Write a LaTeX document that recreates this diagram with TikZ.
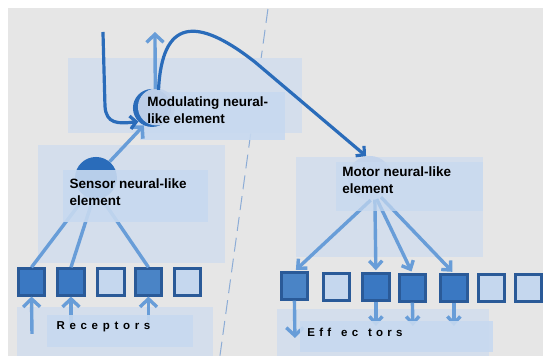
\documentclass[tikz,border=0pt]{standalone}
\usepackage{fontspec}
\setmainfont{Liberation Sans}
\usetikzlibrary{arrows.meta}

\definecolor{pagegrey}{RGB}{230,230,230}
\definecolor{panelblue}{RGB}{212,222,236}
\definecolor{labelblue}{RGB}{199,217,240}
\definecolor{linkblue}{RGB}{104,157,216}
\definecolor{pathblue}{RGB}{42,108,186}
\definecolor{cellfill}{RGB}{58,120,194}
\definecolor{cellmid}{RGB}{74,132,198}
\definecolor{cellpale}{RGB}{197,215,238}
\definecolor{celledge}{RGB}{42,90,152}
\definecolor{splitblue}{RGB}{140,172,214}
\definecolor{bodylight}{RGB}{196,212,235}

\newcommand{\lsgap}{\kern4.7pt}

\begin{document}
\begin{tikzpicture}[x=1pt,y=-1pt,
  panelbox/.style={fill=panelblue},
  tagbox/.style={fill=labelblue, fill opacity=0.9},
  captiontext/.style={anchor=west, align=left, text=black,
    font=\bfseries\fontsize{13.5}{16.5}\selectfont},
  rowlabel/.style={anchor=west, text=black,
    font=\bfseries\fontsize{11.5}{13}\selectfont},
  linkline/.style={draw=linkblue, line width=3.4pt},
  linkarrow/.style={linkline, -{Straight Barb[length=8pt,width=17pt]}},
  smallarrow/.style={linkline, -{Straight Barb[length=7pt,width=13pt]}},
  flowcurve/.style={draw=pathblue, line width=3.2pt,
    -{Straight Barb[length=6pt,width=13pt]}},
  cellbase/.style={rectangle, minimum size=26.5pt, inner sep=0pt,
    line width=2.8pt, draw=celledge},
  cellon/.style={cellbase, fill=cellfill},
  cellmidon/.style={cellbase, fill=cellmid},
  celloff/.style={cellbase, fill=cellpale}]

% page and divider
\fill[white] (0,0) rectangle (543,356);
\fill[pagegrey] (8,8) rectangle (543,356);
\draw[splitblue, line width=1pt, dash pattern=on 14pt off 7pt] (268,9) -- (220,356);

% background panels
\fill[panelbox] (68,58) rectangle (302,133);
\fill[panelbox] (38,145) rectangle (225,263);
\fill[panelbox] (296,157) rectangle (483,257);
\fill[panelbox] (17,307) rectangle (213,356);
\fill[panelbox] (277,309) rectangle (489,356);

% modulating element
\fill[tagbox] (140,92) rectangle (285,140);
\node[circle, minimum size=38pt, inner sep=0pt, fill=pathblue] (mod) at (152,108) {};
\fill[bodylight, fill opacity=0.95] (156.5,107) circle (18.5);

% sensor and motor elements
\node[circle, minimum size=42pt, inner sep=0pt, fill=pathblue] (sens) at (96,178) {};
\node[circle, minimum size=44pt, inner sep=0pt, fill=bodylight] (mot) at (370,178) {};

% receptor cells
\node[cellon]    (r1) at (31.5,282) {};
\node[cellon]    (r2) at (71,282) {};
\node[celloff]   (r3) at (111,282) {};
\node[cellmidon] (r4) at (148.5,282) {};
\node[celloff]   (r5) at (187.5,282) {};

% effector cells
\node[cellmidon] (e1) at (294.5,286) {};
\node[celloff]   (e2) at (336.5,287) {};
\node[cellon]    (e3) at (376,287) {};
\node[cellon]    (e4) at (412.5,288) {};
\node[cellon]    (e5) at (454,288) {};
\node[celloff]   (e6) at (491.5,288) {};
\node[celloff]   (e7) at (528.5,288) {};

% sensor fan-in
\draw[linkline] (sens.240) -- (r1.north);
\draw[linkline] (sens.262) -- (r2.north);
\draw[linkline] (sens.285) -- (r4.north);

% motor fan-out
\draw[smallarrow, shorten >=2pt] (mot.272) -- (e1.north);
\draw[smallarrow, shorten >=2pt] (mot.283) -- (e3.north);
\draw[smallarrow, shorten >=2pt] (mot.288) -- (e4.north);
\draw[smallarrow, shorten >=2pt] (mot.300) -- (e5.north);

% stimuli entering the receptors
\coordinate (ru1) at (32,334);
\coordinate (ru2) at (71,330);
\coordinate (ru4) at (148.5,330);
\draw[linkarrow] (ru1) -- (r1.south);
\draw[linkarrow] (ru2) -- (r2.south);
\draw[linkarrow] (ru4) -- (r4.south);

% outputs leaving the effectors
\coordinate (ed1) at (295,338);
\coordinate (ed3) at (376,326);
\coordinate (ed4) at (413,326);
\coordinate (ed5) at (454,326);
\draw[linkarrow] (e1.south) -- (ed1);
\draw[smallarrow] (e3.south) -- (ed3);
\draw[smallarrow] (e4.south) -- (ed4);
\draw[smallarrow] (e5.south) -- (ed5);

% label boxes
\fill[tagbox] (63,170) rectangle (208,222);
\fill[labelblue, fill opacity=0.7] (336,162) rectangle (483,211);
\fill[tagbox] (47,315) rectangle (193,347);
\fill[tagbox] (300,321) rectangle (493,352);

% labels
\node[captiontext] (modtext) at (144,110) {Modulating neural-\\like element};
\node[captiontext] (senstext) at (66,192) {Sensor neural-like\\element};
\node[captiontext] (mottext) at (339,180) {Motor neural-like\\element};
\node[rowlabel] (rectext) at (53,327) {R\lsgap e\lsgap c\lsgap e\lsgap p\lsgap t\lsgap o\lsgap r\lsgap s};
\node[rowlabel] (efftext) at (304,332) {E\kern4.2pt f\kern4.2pt f\kern10pt e\kern4.2pt c\kern10pt t\kern4.2pt o\kern4.2pt r\kern4.2pt s};

% sensor to modulating, modulating output
\draw[linkarrow] (sens.50) -- (mod.245);
\coordinate (uptip) at (155,32);
\draw[linkarrow] (mod.80) -- (uptip);

% feedback into the modulating element
\coordinate (fbstart) at (103,32);
\draw[flowcurve] (fbstart) -- (105,106) .. controls (106,124) and (118,124) .. (mod.225);

% modulating element driving the motor element
\draw[flowcurve] (mod.70) .. controls (162,20) and (195,15) .. (255,62) -- (mot.100);

\end{tikzpicture}
\end{document}
